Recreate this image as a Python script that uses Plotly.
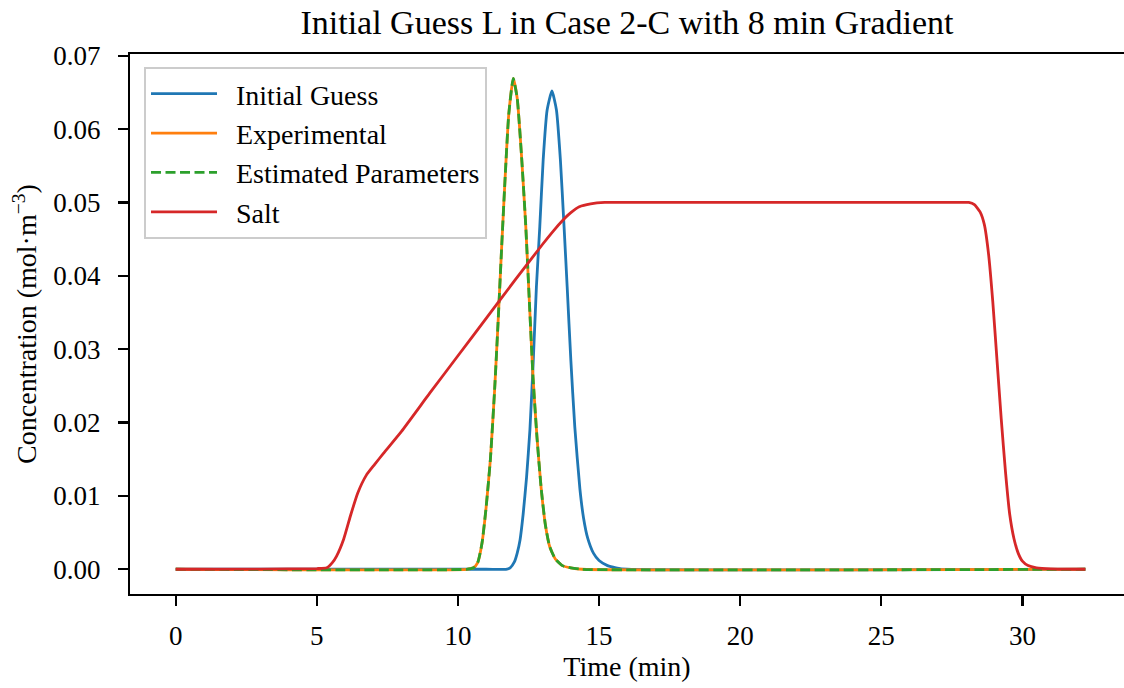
import plotly.graph_objects as go

# ---- data ----
time_initial = [0.0, 11.0, 11.7, 11.85, 12.0, 12.1, 12.2, 12.31, 12.43, 12.55, 12.67, 12.78, 12.90, 13.02, 13.16, 13.33,
                13.49, 13.63, 13.76, 13.87, 14.0, 14.14, 14.32, 14.45, 14.6, 14.8, 15.0, 15.3, 15.6, 16.0, 32.23]
conc_initial = [0.0, 0.0, 0.0, 0.0002, 0.0010, 0.0022, 0.0040, 0.0075, 0.0125, 0.0190, 0.0285, 0.0385, 0.0467, 0.0558, 0.0626, 0.0652,
                0.0626, 0.0558, 0.0467, 0.0385, 0.0285, 0.0194, 0.0110, 0.0070, 0.0042, 0.0022, 0.0012, 0.0005, 0.0002, 0.0, 0.0]

time_exp = [0.0, 10.3, 10.55, 10.7, 10.85, 11.0, 11.15, 11.3, 11.42, 11.55, 11.68, 11.8, 11.96, 12.1, 12.25, 12.4,
            12.53, 12.66, 12.8, 12.95, 13.1, 13.25, 13.45, 13.7, 14.0, 14.4, 32.23]
conc_exp = [0.0, 0.0, 0.0002, 0.0009, 0.0035, 0.0085, 0.0150, 0.0245, 0.0335, 0.0440, 0.0540, 0.0620, 0.0669, 0.0642, 0.0565, 0.0470,
            0.0365, 0.0262, 0.0180, 0.0110, 0.0060, 0.0031, 0.0014, 0.0005, 0.0002, 0.0, 0.0]

time_est = [0.0, 10.3, 10.55, 10.7, 10.85, 11.0, 11.15, 11.3, 11.42, 11.55, 11.68, 11.8, 11.96, 12.1, 12.25, 12.4,
            12.53, 12.66, 12.8, 12.95, 13.1, 13.25, 13.45, 13.7, 14.0, 14.4, 32.23]
conc_est = [0.0, 0.0, 0.0002, 0.0009, 0.0035, 0.0085, 0.0150, 0.0245, 0.0335, 0.0440, 0.0540, 0.0620, 0.0669, 0.0642, 0.0565, 0.0470,
            0.0365, 0.0262, 0.0180, 0.0110, 0.0060, 0.0031, 0.0014, 0.0005, 0.0002, 0.0, 0.0]

time_salt = [0.0, 3.0, 5.0, 5.35, 5.55, 5.7, 5.95, 6.2, 6.45, 6.75, 7.05, 7.36, 8.0, 9.0, 10.0, 11.0, 12.0, 13.0,
             13.4, 13.7, 14.0, 14.3, 14.7, 15.2, 16.0, 20.0, 24.0, 27.5, 28.1, 28.3, 28.5, 28.65, 28.8, 28.95, 29.1, 29.25, 29.4,
             29.55, 29.7, 29.85, 30.0, 30.2, 30.5, 31.0, 32.23]
conc_salt = [0.0, 0.00002, 0.0001, 0.0002, 0.0009, 0.0018, 0.0041, 0.0074, 0.0104, 0.0128, 0.0143, 0.0158, 0.0188, 0.0240,
             0.0291, 0.0342, 0.0393, 0.0443, 0.0462, 0.0475, 0.0486, 0.0494, 0.0498, 0.0500, 0.0500, 0.0500, 0.0500, 0.0500,
             0.0500, 0.0497, 0.0487, 0.0470, 0.0430, 0.0365, 0.0285, 0.0205, 0.0133, 0.0075, 0.0042, 0.0022, 0.0011, 0.0005,
             0.0002, 0.00005, 0.0]

series_names = ["Initial Guess", "Experimental", "Estimated Parameters", "Salt"]
x_ticks = [0, 5, 10, 15, 20, 25, 30]
y_ticks = [0.00, 0.01, 0.02, 0.03, 0.04, 0.05, 0.06, 0.07]

FONT = "Liberation Serif, Times New Roman, serif"
LW = 2.8
SM = 0.5
PAD = "\u00a0\u00a0"

fig = go.Figure()
fig.add_trace(go.Scatter(x=time_initial, y=conc_initial, mode="lines", name=PAD + series_names[0],
                         line=dict(color="#1f77b4", width=LW, shape="spline", smoothing=SM)))
fig.add_trace(go.Scatter(x=time_exp, y=conc_exp, mode="lines", name=PAD + series_names[1],
                         line=dict(color="#ff7f0e", width=LW, shape="spline", smoothing=SM)))
fig.add_trace(go.Scatter(x=time_est, y=conc_est, mode="lines", name=PAD + series_names[2],
                         line=dict(color="#2ca02c", width=LW, dash="10px,4.5px", shape="spline", smoothing=SM)))
fig.add_trace(go.Scatter(x=time_salt, y=conc_salt, mode="lines", name=PAD + series_names[3],
                         line=dict(color="#d62728", width=LW, shape="spline", smoothing=SM)))

fig.update_layout(
    width=1124, height=688,
    margin=dict(l=130, r=0, t=54, b=94),
    paper_bgcolor="white", plot_bgcolor="white",
    font=dict(family=FONT, size=27, color="black"),
    title=dict(text="Initial Guess L in Case 2-C with 8 min Gradient", x=0.5, xref="paper",
               xanchor="center", y=1 - 22 / 688, yanchor="middle", font=dict(size=34, family=FONT)),
    showlegend=True,
    legend=dict(x=0.0141, y=0.976, xanchor="left", yanchor="top", bgcolor="white",
                bordercolor="#cccccc", borderwidth=2, font=dict(size=28, family=FONT),
                tracegroupgap=0, itemwidth=66),
)
fig.update_xaxes(range=[-1.62, 33.60], tickvals=x_ticks, ticktext=[str(v) for v in x_ticks],
                 showgrid=False, zeroline=False, showline=True, linecolor="black", linewidth=2.2,
                 mirror=True, ticks="outside", ticklen=10, tickwidth=2.2, tickcolor="black",
                 ticklabelstandoff=6, tickfont=dict(size=27),
                 title=dict(text="Time (min)", font=dict(size=28, family=FONT), standoff=6))
fig.update_yaxes(range=[-0.00337, 0.07023], tickvals=y_ticks, ticktext=[f"{v:.2f}" for v in y_ticks],
                 showgrid=False, zeroline=False, showline=True, linecolor="black", linewidth=2.2,
                 ticks="outside", ticklen=10, tickwidth=2.2, tickcolor="black",
                 ticklabelstandoff=12, tickfont=dict(size=27),
                 title=dict(text="Concentration (mol\u00b7m<sup>\u22123</sup>)", font=dict(size=28, family=FONT),
                            standoff=8))

fig.write_html("out.html", config={"displayModeBar": False, "staticPlot": True},
               post_script="document.body.style.margin='0';document.body.style.overflow='hidden';")
